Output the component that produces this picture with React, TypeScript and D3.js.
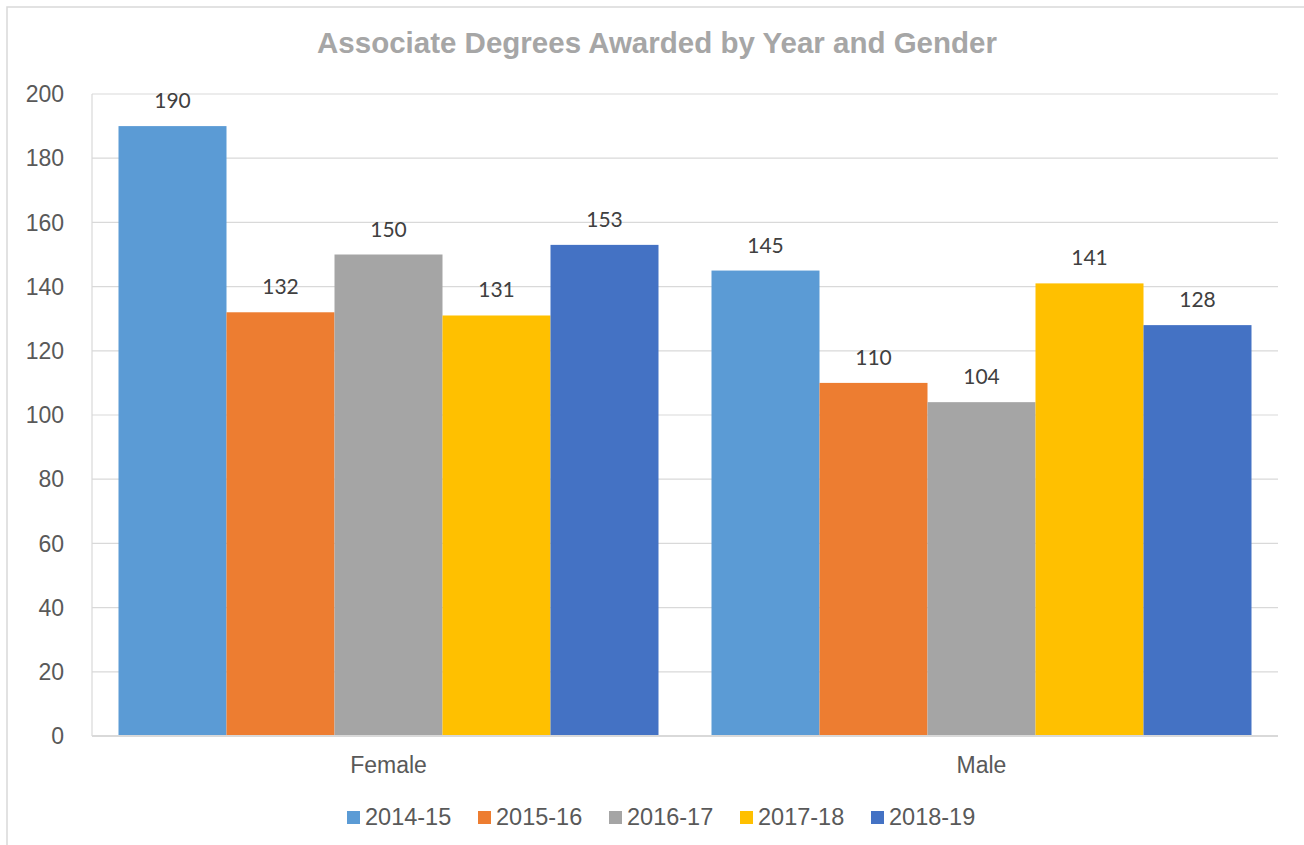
import React from "react";
import * as d3 from "d3";

const categories = ["Female", "Male"];
const seriesNames = ["2014-15", "2015-16", "2016-17", "2017-18", "2018-19"];
const seriesColors = ["#5B9BD5", "#ED7D31", "#A5A5A5", "#FFC000", "#4472C4"];
const femaleValues = [190, 132, 150, 131, 153];
const maleValues = [145, 110, 104, 141, 128];
const yTicks = [0, 20, 40, 60, 80, 100, 120, 140, 160, 180, 200];
const title = "Associate Degrees Awarded by Year and Gender";

const W = 1304;
const H = 845;
const plot = { left: 92, right: 1278, top: 94, bottom: 736 };

export default function App() {
  const valuesByCat = [femaleValues, maleValues];
  const y = d3.scaleLinear().domain([0, 200]).range([plot.bottom, plot.top]);
  const x0 = d3.scaleBand<string>().domain(categories).range([plot.left, plot.right]).padding(0);
  const bw0 = x0.bandwidth();
  const outer = 26.5;
  const x1 = d3.scaleBand<string>().domain(seriesNames).range([outer, bw0 - outer]).padding(0);

  const axisFont = "'Liberation Sans', Arial, sans-serif";
  const labelFont = "Lato, 'Open Sans', sans-serif";

  return (
    <svg width={W} height={H} style={{ position: "absolute", left: 0, top: 0, background: "#fff" }}>
      <rect x={0} y={0} width={W} height={H} fill="#fff" />
      <rect x={7} y={7} width={1320} height={860} fill="none" stroke="#D9D9D9" strokeWidth={1.5} />
      <text x={657} y={53} textAnchor="middle" fontFamily={axisFont} fontWeight="bold" fontSize={29.5} fill="#A6A6A6">
        {title}
      </text>
      {yTicks.map((t) => (
        <g key={t}>
          {t > 0 && (
            <line x1={plot.left} x2={plot.right} y1={y(t)} y2={y(t)} stroke="#D9D9D9" strokeWidth={1.2} />
          )}
          <text x={64} y={y(t)} dy="0.36em" textAnchor="end" fontFamily={axisFont} fontSize={23} fill="#595959">
            {t}
          </text>
        </g>
      ))}
      <line x1={plot.left} x2={plot.left} y1={plot.top} y2={plot.bottom} stroke="#D9D9D9" strokeWidth={1.2} />
      {categories.map((c, ci) => (
        <g key={c} transform={`translate(${x0(c)},0)`}>
          {seriesNames.map((s, si) => {
            const v = valuesByCat[ci][si];
            const bx = x1(s)!;
            return (
              <g key={s}>
                <rect x={bx} y={y(v)} width={x1.bandwidth()} height={y(0) - y(v)} fill={seriesColors[si]} />
                <text
                  x={bx + x1.bandwidth() / 2}
                  y={y(v) - 18}
                  textAnchor="middle"
                  fontFamily={labelFont}
                  fontSize={21}
                  fill="#404040"
                >
                  {v}
                </text>
              </g>
            );
          })}
          <text x={bw0 / 2} y={773} textAnchor="middle" fontFamily={axisFont} fontSize={23} fill="#595959">
            {c}
          </text>
        </g>
      ))}
      <line x1={plot.left} x2={plot.right} y1={plot.bottom} y2={plot.bottom} stroke="#D9D9D9" strokeWidth={1.8} />
      {seriesNames.map((s, i) => {
        const lx = 347 + i * 131;
        return (
          <g key={s}>
            <rect x={lx} y={811} width={13} height={13} fill={seriesColors[i]} />
            <text x={lx + 18} y={825} fontFamily={axisFont} fontSize={23.5} fill="#595959">
              {s}
            </text>
          </g>
        );
      })}
    </svg>
  );
}
